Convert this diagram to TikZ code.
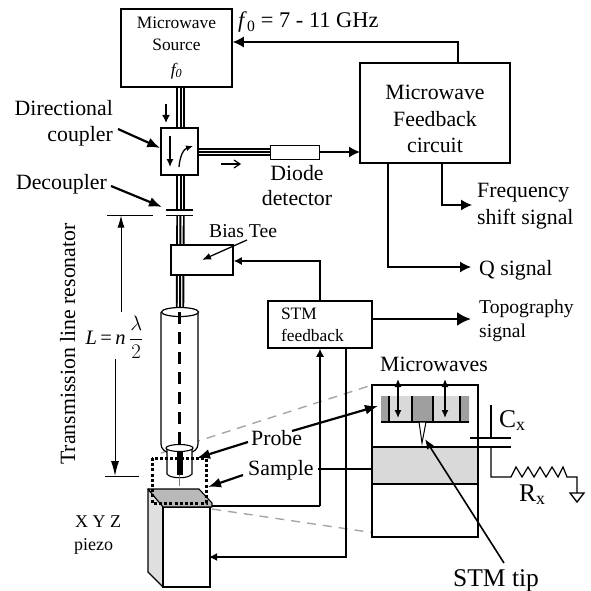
\documentclass[tikz,border=0pt]{standalone}
\usepackage{amsmath}
\usepackage{fontspec}
\setmainfont{Liberation Serif}
\usetikzlibrary{arrows.meta,calc,positioning}

\begin{document}
\begin{tikzpicture}[
            x=1pt, y=-1pt,
            every node/.style={ inner sep=0pt },
            box/.style={ draw, line width=1.5pt, fill=white, align=center },
            triple/.style={ line width=2pt, preaction={draw, black, line width=8.4pt}, preaction={draw, white, line width=4.6pt} },
            wire/.style={ line width=1.3pt, -{Latex[length=11pt, width=11pt]} },
            pointer/.style={ line width=2.2pt, -{Latex[length=13pt, width=10pt]} },
            small/.style={ font=\fontsize{17.4}{22}\selectfont },
            medium/.style={ font=\fontsize{19.6}{24}\selectfont },
            large/.style={ font=\fontsize{21.8}{26.5}\selectfont },
            huge/.style={ font=\fontsize{25.5}{30}\selectfont },
            projection/.style={ gray!70, line width=1.4pt, dash pattern=on 9pt off 7pt }
        ]
        \useasboundingbox (0,0) rectangle (590,591);

        % transmission lines first
        \coordinate (src) at (180.5,87);
        \coordinate (plate1) at (180.5,210);
        \coordinate (plate2) at (180.5,215.5);
        \coordinate (cyltop) at (180,312);
        \draw[triple] (src) -- (plate1);
        \draw[triple] (plate2) -- (cyltop);
        \draw[triple] (198,152) -- (270,152);

        % boxes
        \node[box, small, minimum width=111pt, minimum height=78pt] (source) at (176.5,48) {Microwave\\Source\\[3pt]\textit{f\textsubscript{0}}};
        \node[box, minimum width=37pt, minimum height=47pt] (coupler) at (179.5,151.5) {};
        \node[box, minimum width=49pt, minimum height=14pt, line width=1pt] (diode) at (294.5,152) {};
        \node[box, large, minimum width=150pt, minimum height=100pt] (feedback) at (435,113) {\rule{0pt}{27pt}Microwave\\Feedback\\circuit};
        \node[box, minimum width=62pt, minimum height=30pt] (tee) at (202,260) {};
        \node[box, small, minimum width=104pt, minimum height=47pt, text width=91pt, inner xsep=6.5pt, align=left] (stm) at (320,324.5) {\hspace*{6.5pt}STM\\\hspace*{6.5pt}feedback};

        % decoupler
        \draw[line width=1.4pt] (166,210) -- (193,210) (166,215.5) -- (193,215.5);

        % marks in and around the coupler
        \draw[line width=1.3pt, -{Latex[length=8pt, width=7pt]}] (170,136) -- (170,167);
        \draw[line width=1.3pt, -{Latex[length=7pt, width=6pt]}] (179,167) .. controls (180,155) and (184,149) .. (193,146);
        \draw[line width=1.6pt, -{Latex[length=8pt, width=8pt]}] (166,104) -- (166,123);
        \draw[line width=1.2pt, -{Straight Barb[length=6pt, width=8pt]}] (221,164) -- (241,164);

        % feedback loop wires
        \draw[wire] (diode.east) -- (360,152);
        \coordinate (feedup) at (458,42);
        \draw[wire] (feedback.north -| feedup) -- (feedup) -- (source.east |- feedup);
        \coordinate (freqdown) at (442,205);
        \draw[wire] (feedback.south -| freqdown) -- (freqdown) -- (472,205);
        \coordinate (qdown) at (388,267);
        \draw[wire] (feedback.south -| qdown) -- (qdown) -- (471,267);
        \coordinate (teeup) at (320,261);
        \draw[wire, -{Latex[length=8pt, width=8pt]}] (stm.north -| teeup) -- (teeup) -- (tee.east |- teeup);
        \draw[line width=2.6pt, -{Latex[length=14pt, width=14pt]}] (stm.east |- 0,319) -- (471,319);

        % resonator
        \coordinate (cylbot) at (179.5,448);
        \draw[projection] (161,453) -- (372,385);
        \draw[line width=1.2pt, fill=white] (161,312) -- (161,444) .. controls (161,449) and (165,452) .. (170,453) -- (189,453) .. controls (194,452) and (198,449) .. (198,444) -- (198,312);
        \draw[line width=1.2pt, fill=white] (cyltop) ellipse (18.5 and 4.5);
        \draw[line width=1.1pt, fill=white] (167,449) -- (167,474) .. controls (170,479) and (189,479) .. (192,474) -- (192,449);
        \draw[line width=1.1pt, fill=white] (cylbot) ellipse (13.5 and 3.5);
        \draw[line width=3pt, dash pattern=on 12pt off 8pt] (179.5,312) -- (179.5,452);
        \draw[line width=6pt] (179.5,452) -- (179.5,475);
        \draw[gray, line width=1.2pt] (179.5,475) -- (179.5,486);

        % piezo stage
        \draw[line width=1.4pt, fill=gray!25, line join=round] (148,489) -- (163,506) -- (163,587) -- (148,572) -- cycle;
        \draw[line width=1.4pt, fill=white] (163,507) rectangle (210,587);
        \draw[line width=1.1pt, fill=gray!55, line join=round] (148,489) -- (199,489) -- (212,503) -- (212,507) -- (163,507) -- cycle;
        \draw[projection] (212,509) -- (382,534);

        % dotted frame around the probe
        \draw[line width=3pt, dash pattern=on 3pt off 2.2pt] (152,458) rectangle (206,503);

        % wires to the piezo and the sample
        \coordinate (scanner) at (209,557);
        \coordinate (sampleout) at (320,506);
        \draw[line width=1.5pt] (212,506) -- (sampleout);
        \draw[wire, -{Latex[length=8pt, width=8pt]}] (sampleout) -- (stm.south -| sampleout);
        \coordinate (piezoin) at (346,557);
        \draw[line width=1.6pt, -{Latex[length=8pt, width=8pt]}] (stm.south -| piezoin) -- (piezoin) -- (scanner);

        % enlarged view
        \node[box, minimum width=106pt, minimum height=152pt] (zoombox) at (425,461) {};
        \node[draw, line width=1.4pt, fill=gray!30, minimum width=106pt, minimum height=37pt] (sampleblock) at (425,465.5) {};
        \draw[line width=1.5pt] (318,469) -- (sampleblock.west |- 0,469);
        \node[fill=gray!30, minimum width=88pt, minimum height=26pt] (cavity) at (425,409) {};
        \fill[gray!75] (381,396) rectangle (389,422) (412,396) rectangle (433,422) (460,396) rectangle (469,422);
        \draw[line width=1.2pt] (389,396) -- (389,422) (412,396) -- (412,422) (433,396) -- (433,422) (460,396) -- (460,422);
        \draw[line width=1.3pt] (381,422) -- (469,422);
        \draw[line width=1pt, fill=white] (419,422) -- (426,422) -- (422,443) -- cycle;
        \foreach \xpos in {398,445} {
            \draw[line width=1.4pt, {Latex[length=8pt, width=7pt]}-{Latex[length=8pt, width=7pt]}] (\xpos,379) -- (\xpos,418);
        }

        % tip sample circuit
        \draw[line width=1.2pt] (470,438) -- (511,438) (sampleblock.east |- 0,447) -- (511,447);
        \draw[line width=1.2pt] (491,405) -- (491,438);
        \draw[line width=1.2pt] (491,447) -- (491,477) -- (511,477) -- (516,467) -- (522,477) -- (528,467) -- (534,477) -- (540,467) -- (546,477) -- (552,467) -- (558,477) -- (563,467) -- (567,477) -- (577,477) -- (577,493);
        \draw[line width=1.3pt] (570,493) -- (584,493) -- (577,502) -- cycle;

        % dimension
        \draw[line width=1pt] (107,215) -- (153,215);
        \draw[line width=1pt] (105,476) -- (139,476);
        \node[font=\fontsize{20.5}{24}\selectfont, anchor=center] (length) at (114.5,337) {\textit{L}\,=\,\textit{n}\,$\dfrac{\lambda}{2}$};
        \draw[line width=1pt, -{Latex[length=12pt, width=7pt]}] (121,312) -- (121,215.5);
        \draw[line width=1pt, -{Latex[length=15pt, width=8pt]}] (115,359) -- (115,476);

        % labels
        \node[large, rotate=90, anchor=base] (resonator) at (75,344) {Transmission line resonator};
        \node[font=\fontsize{22.4}{26}\selectfont, anchor=base west] (freq) at (238,28) {\textit{f}\textsubscript{0} = 7 - 11 GHz};
        \node[large, anchor=base east] (coupling) at (113,116) {Directional};
        \node[large, anchor=base east] (couplingb) at (113,142) {coupler};
        \node[large, anchor=base east] (decouple) at (107,189) {Decoupler};
        \draw[pointer] (118,129) -- (coupler.west |- 0,148);
        \draw[pointer] (111,186) -- (162,207);
        \node[large, align=center, anchor=base] (detector) at (297,180) {Diode};
        \node[large, anchor=base] (detectorb) at (297,205) {detector};
        \node[medium, anchor=base west] (teelabel) at (209,237) {Bias Tee};
        \draw[line width=1.3pt, -{Latex[length=9pt, width=7pt]}] (247,240) -- (202,260);
        \node[large, anchor=base west] (freqshift) at (477,197) {Frequency};
        \node[large, anchor=base west] (freqshiftb) at (477,224) {shift signal};
        \node[large, anchor=base west] (qsignal) at (479,275) {Q signal};
        \node[medium, anchor=base west] (topo) at (479,313) {Topography};
        \node[medium, anchor=base west] (topob) at (479,337) {signal};
        \node[large, anchor=base] (waves) at (434,371) {Microwaves};
        \node[large, anchor=base west] (probe) at (251,445) {Probe};
        \node[large, anchor=base west] (sample) at (248,475) {Sample};
        \draw[pointer] (248,442) -- (197,458);
        \draw[pointer] (243,475) -- (208,487);
        \draw[pointer] (292,431) -- (378,406);
        \node[font=\fontsize{18}{22}\selectfont, anchor=base west] (xyz) at (75,527) {X Y Z};
        \node[font=\fontsize{18}{22}\selectfont, anchor=base west] (piezo) at (74,550) {piezo};
        \node[huge, anchor=base west] (cx) at (499,427) {C\textsubscript{x}};
        \node[huge, anchor=base west] (rx) at (519,501) {R\textsubscript{x}};
        \node[huge, anchor=base west] (stmtip) at (453,586) {STM tip};
        \draw[line width=1.6pt, -{Latex[length=10pt, width=8pt]}] (504,563) -- (425,439);
    \end{tikzpicture}
\end{document}
